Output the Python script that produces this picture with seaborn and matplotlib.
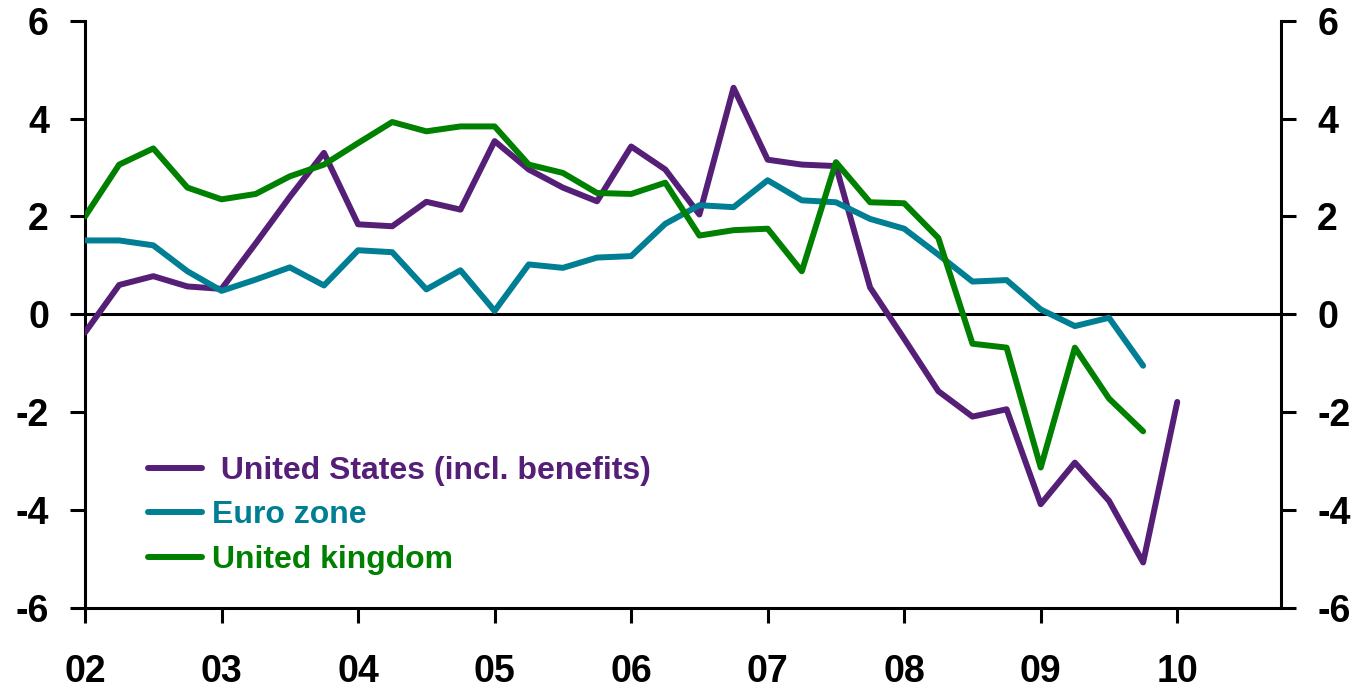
import numpy as np
import pandas as pd
import seaborn as sns
import matplotlib
matplotlib.use("Agg")
from matplotlib import pyplot as plt

# quarterly data, first point 2002 Q1
us = [-0.37, 0.6, 0.78, 0.57,
      0.52, 1.45, 2.4, 3.3,
      1.84, 1.8, 2.3, 2.14,
      3.54, 2.96, 2.59, 2.31,
      3.43, 2.96, 2.04, 4.63,
      3.16, 3.06, 3.03, 0.55,
      -0.5, -1.57, -2.09, -1.94,
      -3.88, -3.03, -3.81, -5.07,
      -1.79]
ez = [1.51, 1.51, 1.41, 0.88,
      0.48, 0.71, 0.96, 0.59,
      1.31, 1.27, 0.51, 0.9,
      0.07, 1.02, 0.95, 1.16,
      1.19, 1.85, 2.23, 2.19,
      2.74, 2.33, 2.29, 1.95,
      1.75, 1.22, 0.67, 0.7,
      0.1, -0.24, -0.07, -1.05]
uk = [2.0, 3.06, 3.39, 2.59,
      2.35, 2.46, 2.82, 3.06,
      3.5, 3.93, 3.74, 3.84,
      3.84, 3.06, 2.89, 2.48,
      2.46, 2.69, 1.61, 1.72,
      1.75, 0.88, 3.11, 2.29,
      2.27, 1.56, -0.6, -0.68,
      -3.13, -0.68, -1.72, -2.39]

names = [" United States (incl. benefits)", "Euro zone", "United kingdom"]
colors = ["#561F77", "#007F94", "#008000"]
year_ticks = list(range(2002, 2011))
year_labels = ["02", "03", "04", "05", "06", "07", "08", "09", "10"]
y_ticks = [-6, -4, -2, 0, 2, 4, 6]

rows = []
for name, vals in zip(names, [us, ez, uk]):
    for i, v in enumerate(vals):
        rows.append({"t": 2002 + i * 0.25, "value": v, "series": name})
df = pd.DataFrame(rows)

sns.set_style("white")
plt.rcParams["font.family"] = ["Liberation Sans", "DejaVu Sans"]
plt.rcParams["font.weight"] = "bold"
plt.rcParams["axes.unicode_minus"] = False

fig = plt.figure(figsize=(13.54, 6.93), dpi=100)
ax = fig.add_axes([0.0628, 0.1227, 0.8833, 0.8474])

ax.axhline(0, color="black", lw=2.2, zorder=1)
sns.lineplot(data=df, x="t", y="value", hue="series", palette=colors,
             hue_order=names, lw=4.3, legend=False, ax=ax, zorder=3)
for ln in ax.get_lines():
    ln.set_solid_capstyle("round")

ax.set_xlim(2002, 2010.76)
ax.set_ylim(-6, 6)
ax.set_xticks(year_ticks)
ax.set_xticklabels(year_labels)
ax.set_yticks(y_ticks)
ax.set_xlabel("")
ax.set_ylabel("")

for side in ["left", "right", "bottom"]:
    ax.spines[side].set_visible(True)
    ax.spines[side].set_linewidth(2.2)
    ax.spines[side].set_color("black")
ax.spines["top"].set_visible(False)

ax.tick_params(axis="y", which="both", left=True, right=True, labelleft=True,
               labelright=True, direction="out", length=11, width=2.2,
               pad=15, labelsize=27, colors="black")
ax.tick_params(axis="x", bottom=True, direction="out", length=11, width=2.2,
               pad=22, labelsize=27, colors="black")
for lab in ax.get_xticklabels() + ax.get_yticklabels():
    lab.set_fontweight("bold")

handles = [plt.Line2D([], [], color=c, lw=4.3, solid_capstyle="round") for c in colors]
leg = ax.legend(handles, names, loc="upper left",
                bbox_to_anchor=(148 / 1354, 1 - 456 / 693),
                bbox_transform=fig.transFigure, frameon=False,
                handlelength=1.7, handletextpad=0.3, labelspacing=0.45,
                borderpad=0, borderaxespad=0,
                prop={"size": 23, "weight": "bold"})
for txt, c in zip(leg.get_texts(), colors):
    txt.set_color(c)

fig.savefig("out.png", dpi=100)
